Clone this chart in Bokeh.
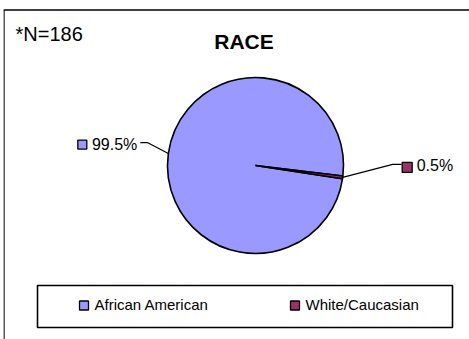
import numpy as np
from bokeh.plotting import figure
from bokeh.models import Range1d
from bokeh.core.properties import value
from bokeh.embed import file_html
from bokeh.resources import INLINE

# ---- data ----
categories = ["African American", "White/Caucasian"]
percents = [99.5, 0.5]
colors = ["#9999FF", "#993366"]
title_text = "RACE"
note_text = "*N=186"

FONT = value("Liberation Sans")
H = 339  # page height used to convert page-y to data-y


def Y(py):
    return H - py


p = figure(width=466, height=331, x_range=Range1d(3, 469), y_range=Range1d(0, 331),
           output_backend="svg", toolbar_location=None, min_border=0,
           x_axis_location=None, y_axis_location=None)
p.grid.visible = False
p.outline_line_color = None
p.background_fill_color = "white"
p.border_fill_color = "white"
p.margin = (8, 0, 0, 3)

# outer chart frame (left and top visible)
p.line(x=[3.5, 3.5], y=[Y(9.5), Y(400)], line_color="black", line_width=1.3)
p.line(x=[3, 500], y=[Y(9.5), Y(9.5)], line_color="black", line_width=1.3)

# ---- pie ----
cx, cy, r = 255, Y(165), 88
rot = np.deg2rad(-6.9)
fr = np.array(percents) / sum(percents)
cum = np.concatenate([[0], np.cumsum(fr)])
starts = rot + 2 * np.pi * cum[:-1]
ends = rot + 2 * np.pi * cum[1:]
p.wedge(x=cx, y=cy, radius=r, start_angle=starts, end_angle=ends,
        fill_color=colors, line_color="black", line_width=1.6)

mids = (starts + ends) / 2
labels = [f"{v:.1f}%" for v in percents]

# leader lines + labels
for i, a in enumerate(mids):
    ex, ey = cx + r * np.cos(a), cy + r * np.sin(a)
    if np.cos(a) < 0:
        bx, by = ex - 21, ey + 11
        tx = bx - 7
        p.line(x=[ex, bx, tx], y=[ey, by, by], line_color="black", line_width=1.2)
        p.text(x=[tx - 3], y=[by - 2], text=[labels[i]], text_font=FONT,
               text_font_size="16px", text_align="right", text_baseline="middle")
        p.rect(x=[tx - 3 - 50 - 5], y=[by - 2], width=9, height=9,
               fill_color=colors[i], line_color="black", line_width=1.3)
    else:
        bx, by = ex + 50, ey + 13
        tx = bx + 9
        p.line(x=[ex, bx, tx], y=[ey, by, by], line_color="black", line_width=1.2)
        p.rect(x=[tx + 5.5], y=[by - 3], width=10, height=10,
               fill_color=colors[i], line_color="black", line_width=1.3)
        p.text(x=[tx + 15], y=[by - 1], text=[labels[i]], text_font=FONT,
               text_font_size="16px", text_align="left", text_baseline="middle")

# ---- titles ----
p.text(x=[243.5], y=[Y(41)], text=[title_text], text_font=FONT, text_font_size="21px",
       text_font_style="bold", text_align="center", text_baseline="middle")
p.text(x=[15], y=[Y(33)], text=[note_text], text_font=FONT, text_font_size="20px",
       text_align="left", text_baseline="middle")

# ---- legend ----
p.quad(left=[37], right=[452], top=[Y(285)], bottom=[Y(327)], fill_color="white",
       line_color="black", line_width=1.6)
leg_x = [83.5, 294.5]
p.rect(x=leg_x, y=[Y(305)] * 2, width=9, height=9, fill_color=colors,
       line_color="black", line_width=1.3)
p.text(x=[lx + 10.5 for lx in leg_x], y=[Y(304)] * 2, text=categories, text_font=FONT,
       text_font_size="15px", text_align="left", text_baseline="middle")

open("out.html", "w").write(file_html(p, INLINE))
